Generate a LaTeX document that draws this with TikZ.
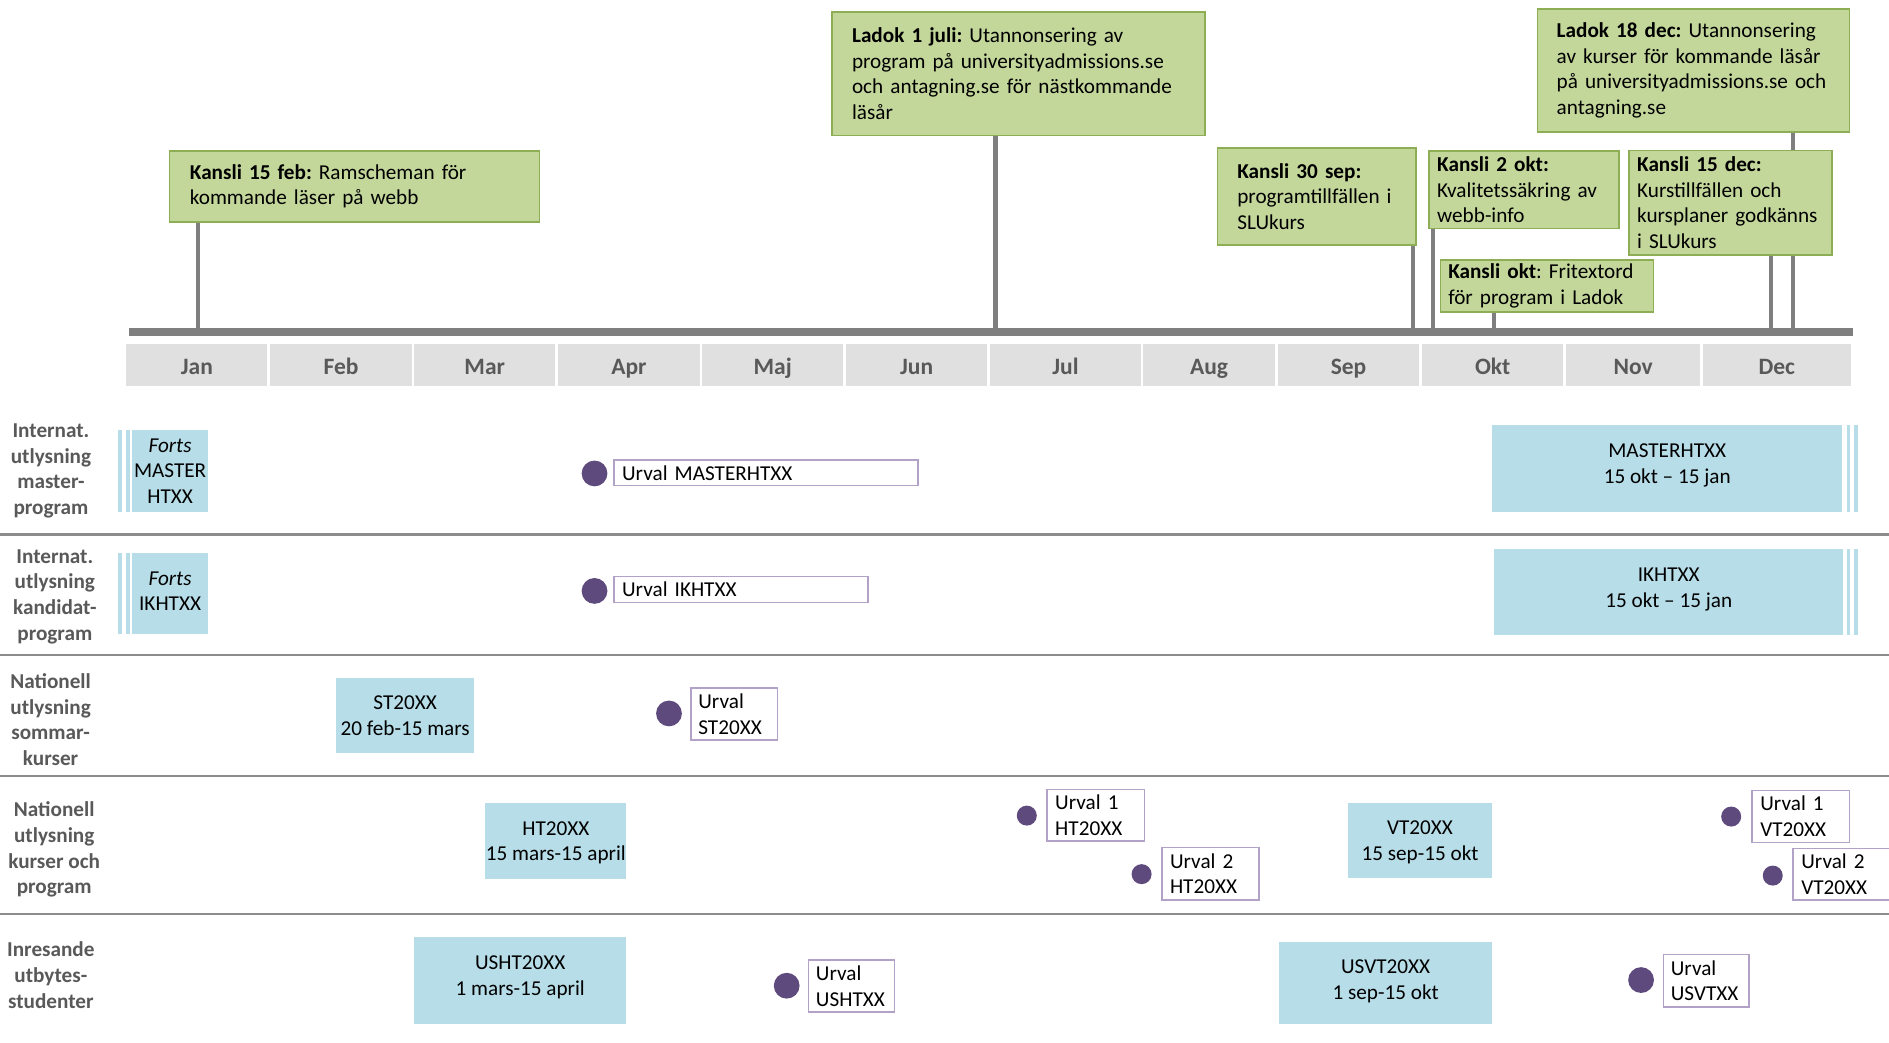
\documentclass[tikz,border=0pt]{standalone}
\usepackage{fontspec}
\setmainfont{Carlito}
\definecolor{gfill}{HTML}{C4D79B}
\definecolor{gdraw}{HTML}{8EAE56}
\definecolor{bfill}{HTML}{B7DDE8}
\definecolor{mfill}{HTML}{E0E0E0}
\definecolor{mtext}{HTML}{595959}
\definecolor{purp}{HTML}{5F4A7D}
\definecolor{ubord}{HTML}{B3A2C7}
\definecolor{stemc}{HTML}{7F7F7F}
\definecolor{divc}{HTML}{8C8C8C}
\newcommand{\Lx}[1]{\mbox{#1}}
\begin{document}
\frenchspacing
\begin{tikzpicture}[x=1pt,y=-1pt,
  every node/.style={inner sep=0pt, font={\fontsize{17.6}{21.3}\selectfont\frenchspacing}},
  gbox/.style={draw=gdraw, fill=gfill, line width=1.3pt, anchor=north west, align=left},
  bbox/.style={fill=bfill, anchor=north west, align=center, text depth=0pt},
  ubox/.style={draw=ubord, fill=white, line width=1.2pt, anchor=north west, align=left},
  month/.style={fill=mfill, anchor=north west, minimum height=35, text height=15.6pt, text depth=0pt,
    font={\fontsize{19.5}{23}\bfseries\selectfont}, text=mtext},
  rlabel/.style={align=center, text=mtext, text depth=0pt, font={\fontsize{17.6}{21.3}\bfseries\selectfont}},
  bigdot/.style={circle, fill=purp, minimum size=21.4},
  smalldot/.style={circle, fill=purp, minimum size=16.6},
  stripe/.style={fill=bfill},
  stem/.style={draw=stemc, line width=3.5pt},
  divider/.style={draw=divc, line width=2pt}]

\path[fill=white, use as bounding box] (0,0) rectangle (1568,865);

% ---------- timeline coordinates ----------
\coordinate (t1) at (164.3,275.5);
\coordinate (t2) at (826.3,275.5);
\coordinate (t3) at (1173,275.5);
\coordinate (t4) at (1189.4,275.5);
\coordinate (t5) at (1240.2,275.5);
\coordinate (t6) at (1469.9,275.5);
\coordinate (t7) at (1488.1,275.5);
\coordinate (tla) at (107,275.5);
\coordinate (tlb) at (1537.7,275.5);

% ---------- green milestone boxes ----------
\node[gbox, minimum width=307, minimum height=59, text width=273, inner xsep=17] (kf15) at (140,124.5)
  {\Lx{\textbf{Kansli 15 feb:} Ramscheman för}\\\Lx{kommande läser på webb}};
\node[gbox, minimum width=309.5, minimum height=102.4, text width=276.3, inner xsep=16.6] (l1j) at (690,9.4)
  {\Lx{\textbf{Ladok 1 juli:} Utannonsering av}\\\Lx{program på universityadmissions.se}\\\Lx{och antagning.se för nästkommande}\\\Lx{läsår}};
\node[gbox, minimum width=164.8, minimum height=80.8, text width=132, inner xsep=16.4] (k30s) at (1010,122)
  {\Lx{\textbf{Kansli 30 sep:}}\\\Lx{programtillfällen i}\\\Lx{SLUkurs}};
\node[gbox, minimum width=157.9, minimum height=64.2, text width=144.1, inner xsep=6.9] (k2o) at (1185.4,124.8)
  {\Lx{\textbf{Kansli 2 okt:}}\\\Lx{Kvalitetssäkring av}\\\Lx{webb-info}};
\node[gbox, minimum width=177.1, minimum height=42.9, text width=163.9, inner xsep=6.6] (kokt) at (1194.9,215.3)
  {\Lx{\textbf{Kansli okt}: Fritextord}\\\Lx{för program i Ladok}};
\node[gbox, minimum width=259, minimum height=102.1, text width=227, inner xsep=16] (l18d) at (1275.5,6.6)
  {\Lx{\textbf{Ladok 18 dec:} Utannonsering}\\\Lx{av kurser för kommande läsår}\\\Lx{på universityadmissions.se och}\\\Lx{antagning.se}};

\draw[stem] (t1 |- kf15.south) -- (t1);
\draw[stem] (t2 |- l1j.south) -- (t2);
\draw[stem] (t3 |- k30s.south) -- (t3);
\draw[stem] (t4 |- k2o.south) -- (t4);
\draw[stem] (t5 |- kokt.south) -- (t5);
\draw[stem] (t7 |- l18d.south) -- (t7);

\node[gbox, minimum width=168.5, minimum height=86.6, text width=155.3, inner xsep=6.6] (k15d) at (1351.7,124.2)
  {\Lx{\textbf{Kansli 15 dec:}}\\\Lx{Kurstillfällen och}\\\Lx{kursplaner godkänns}\\\Lx{i SLUkurs}};
\draw[stem] (t6 |- k15d.south) -- (t6);

% timeline bar
\draw[draw=stemc, line width=7pt] (tla) -- (tlb);

% ---------- months ----------
\node[month, minimum width=116.9] (jan) at (104.8,285) {Jan};
\node[month, minimum width=117.2] (feb) at (224.3,285) {Feb};
\node[month, minimum width=116.9] (mar) at (343.7,285) {Mar};
\node[month, minimum width=117.4] (apr) at (463.2,285) {Apr};
\node[month, minimum width=117.1] (maj) at (582.7,285) {Maj};
\node[month, minimum width=117.3] (jun) at (702,285) {Jun};
\node[month, minimum width=124.9] (jul) at (821.8,285) {Jul};
\node[month, minimum width=109.2] (aug) at (948.8,285) {Aug};
\node[month, minimum width=116.4] (sep) at (1061,285) {Sep};
\node[month, minimum width=117.5] (okt) at (1180,285) {Okt};
\node[month, minimum width=110.8] (nov) at (1300,285) {Nov};
\node[month, minimum width=123.3] (dec) at (1413,285) {Dec};

% ---------- row dividers ----------
\draw[divider] (0,443.8) -- (1568,443.8);
\draw[divider] (0,543.7) -- (1568,543.7);
\draw[divider] (0,644.2) -- (1568,644.2);
\draw[divider] (0,758.7) -- (1568,758.7);

% ---------- row 1: master ----------
\node[rlabel] (lab1) at (42.3,389.4) {Internat.\\utlysning\\master-\\program};
\fill[stripe] (97.8,357) rectangle (101.2,424.7);
\fill[stripe] (104.5,357) rectangle (107.8,424.7);
\node[bbox, minimum width=62.6, minimum height=67.7] (fm) at (109.7,357) {\textit{Forts}\\MASTER\\HTXX};
\node[bigdot] (d1) at (493.5,393) {};
\node[ubox, minimum width=252.4, minimum height=21, text width=239, inner xsep=6.7] (um) at (509.1,381.3) {Urval MASTERHTXX};
\node[bbox, minimum width=290.6, minimum height=71.9, text depth=7.7pt] (ms) at (1238.4,352.8) {MASTERHTXX\\15 okt – 15 jan};
\fill[stripe] (1532.8,352.8) rectangle (1535.6,424.7);
\fill[stripe] (1539.3,352.8) rectangle (1542.1,424.7);

% ---------- row 2: kandidat ----------
\node[rlabel] (lab2) at (45.5,493.7) {Internat.\\utlysning\\kandidat-\\program};
\fill[stripe] (97.8,459) rectangle (101.2,526);
\fill[stripe] (104.5,459) rectangle (107.8,526);
\node[bbox, minimum width=62.6, minimum height=67, text depth=4pt] (fi) at (109.7,459) {\textit{Forts}\\IKHTXX};
\node[bigdot] (d2) at (493.5,490.5) {};
\node[ubox, minimum width=210.9, minimum height=21.5, text width=197.5, inner xsep=6.7] (ui) at (509.1,477.9) {Urval IKHTXX};
\node[bbox, minimum width=289.9, minimum height=70.8, text depth=7.4pt] (ik) at (1240,455.7) {IKHTXX\\15 okt – 15 jan};
\fill[stripe] (1532.8,455.7) rectangle (1535.6,526.8);
\fill[stripe] (1539.3,455.7) rectangle (1542.1,526.8);

% ---------- row 3: sommarkurser ----------
\node[rlabel] (lab3) at (42,597.3) {Nationell\\utlysning\\sommar-\\kurser};
\node[bbox, minimum width=114.2, minimum height=62.3] (st) at (279,562.5) {ST20XX\\20 feb-15 mars};
\node[bigdot] (d3) at (555.3,592.2) {};
\node[ubox, minimum width=71.9, minimum height=43.2, text width=59.3, inner xsep=6.3] (us) at (572.8,570.5) {Urval\\ST20XX};

% ---------- row 4: kurser och program ----------
\node[rlabel] (lab4) at (45,703.7) {Nationell\\utlysning\\kurser och\\program};
\node[bbox, minimum width=117.2, minimum height=62.8] (ht) at (402.6,666.6) {HT20XX\\15 mars-15 april};
\node[smalldot] (d4) at (852.3,677) {};
\node[ubox, minimum width=80.7, minimum height=42.9, text width=67.1, inner xsep=6.8] (u1h) at (868.5,654.7) {Urval 1\\HT20XX};
\node[smalldot] (d5) at (947.6,725.6) {};
\node[ubox, minimum width=80.6, minimum height=43.7, text width=67, inner xsep=6.8] (u2h) at (963.8,702.8) {Urval 2\\HT20XX};
\node[bbox, minimum width=119.4, minimum height=61.9] (vt) at (1118.8,666.6) {VT20XX\\15 sep-15 okt};
\node[smalldot] (d6) at (1437,677.8) {};
\node[ubox, minimum width=80.6, minimum height=43.1, text width=67, inner xsep=6.8] (u1v) at (1453.8,655.5) {Urval 1\\VT20XX};
\node[smalldot] (d7) at (1471.5,726.8) {};
\node[ubox, minimum width=86, minimum height=42.8, text width=72.4, inner xsep=6.8] (u2v) at (1487.8,703.6) {Urval 2\\VT20XX};

% ---------- row 5: inresande ----------
\node[rlabel] (lab5) at (42.2,809.3) {Inresande\\utbytes-\\studenter};
\node[bbox, minimum width=176.3, minimum height=71.9, text depth=8.8pt] (usht) at (343.5,777.8) {USHT20XX\\1 mars-15 april};
\node[bigdot] (d8) at (653,818.2) {};
\node[ubox, minimum width=71.5, minimum height=43.2, text width=58.9, inner xsep=6.3] (uush) at (670.4,796.3) {Urval\\USHTXX};
\node[bbox, minimum width=176.5, minimum height=67.7, text depth=5.6pt] (usvt) at (1061.7,782) {USVT20XX\\1 sep-15 okt};
\node[bigdot] (d9) at (1362.2,813.5) {};
\node[ubox, minimum width=71.2, minimum height=43.5, text width=58.6, inner xsep=6.3] (uusv) at (1380,791.6) {Urval\\USVTXX};

\end{tikzpicture}
\end{document}
